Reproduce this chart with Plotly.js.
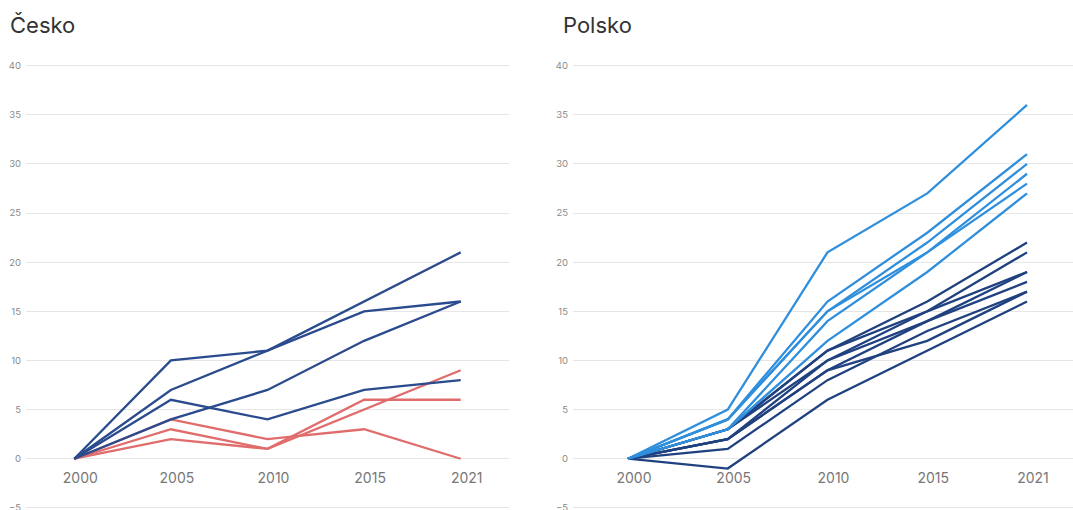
<!DOCTYPE html>
<html>
<head>
<meta charset="utf-8">
<script src="https://cdn.plot.ly/plotly-3.0.1.min.js"></script>
<style>
html, body { margin: 0; padding: 0; overflow: hidden; background: #fff; }
#chart { width: 1073px; height: 600px; }
</style>
</head>
<body>
<div id="chart"></div>
<script>
const years = ["2000", "2005", "2010", "2015", "2021"];

// Česko
const czBlue1 = [0, 10, 11, 15, 16];
const czBlue2 = [0, 7, 11, 16, 21];
const czBlue3 = [0, 4, 7, 12, 16];
const czBlue4 = [0, 6, 4, 7, 8];
const czRed1 = [0, 4, 2, 3, 0];
const czRed2 = [0, 3, 1, 6, 6];
const czRed3 = [0, 2, 1, 5, 9];

// Polsko
const plLight1 = [0, 5, 21, 27, 36];
const plLight2 = [0, 4, 16, 23, 31];
const plLight3 = [0, 4, 15, 22, 30];
const plLight4 = [0, 3, 14, 21, 29];
const plLight5 = [0, 4, 15, 21, 28];
const plLight6 = [0, 3, 12, 19, 27];
const plDark1 = [0, 3, 11, 16, 22];
const plDark2 = [0, 3, 11, 15, 21];
const plDark3 = [0, 2, 10, 15, 19];
const plDark4 = [0, 3, 10, 14, 19];
const plDark5 = [0, 2, 9, 14, 18];
const plDark6 = [0, 2, 9, 12, 17];
const plDark7 = [0, 1, 8, 13, 17];
const plDark8 = [0, -1, 6, 11, 16];

const NAVY = "#2a4b8d";
const RED = "#e06c6c";
const LIGHT = "#2f8fdc";
const DARK = "#1f417f";

function line(y, color, xa, ya) {
  return { x: years, y: y, type: "scatter", mode: "lines",
    line: { color: color, width: 2.3 }, xaxis: xa, yaxis: ya, hoverinfo: "skip" };
}

const data = [
  line(czRed1, RED, "x", "y"),
  line(czRed2, RED, "x", "y"),
  line(czRed3, RED, "x", "y"),
  line(czBlue1, NAVY, "x", "y"),
  line(czBlue2, NAVY, "x", "y"),
  line(czBlue3, NAVY, "x", "y"),
  line(czBlue4, NAVY, "x", "y"),
  line(plDark1, DARK, "x2", "y2"),
  line(plDark2, DARK, "x2", "y2"),
  line(plDark3, DARK, "x2", "y2"),
  line(plDark4, DARK, "x2", "y2"),
  line(plDark5, DARK, "x2", "y2"),
  line(plDark6, DARK, "x2", "y2"),
  line(plDark7, DARK, "x2", "y2"),
  line(plDark8, DARK, "x2", "y2"),
  line(plLight1, LIGHT, "x2", "y2"),
  line(plLight2, LIGHT, "x2", "y2"),
  line(plLight3, LIGHT, "x2", "y2"),
  line(plLight4, LIGHT, "x2", "y2"),
  line(plLight5, LIGHT, "x2", "y2"),
  line(plLight6, LIGHT, "x2", "y2")
];

const W = 1073;
const xTick = { family: "Inter, 'Noto Sans', sans-serif", size: 14, color: "#777" };
const yTick = { family: "Inter, 'Noto Sans', sans-serif", size: 9.5, color: "#8a8a8a" };
const yRange = [-10, 42];
const xPos = (0 - yRange[0]) / (yRange[1] - yRange[0]);

function xaxis(domain, range) {
  return {
    domain: domain, type: "category", range: range,
    anchor: "free", position: xPos,
    showgrid: false, zeroline: false, showline: false,
    ticks: "", ticklabelstandoff: 9, ticklabelshift: 6,
    tickfont: xTick, fixedrange: true
  };
}
function yaxis(xanchorName) {
  return {
    anchor: xanchorName, range: yRange, dtick: 5, tick0: 0,
    showgrid: true, gridcolor: "#e6e6e6", gridwidth: 1,
    zeroline: false, showline: false, ticks: "",
    ticklabelstandoff: 4, tickfont: yTick, fixedrange: true
  };
}

const layout = {
  width: 1073, height: 600,
  margin: { l: 0, r: 0, t: 46, b: 43 },
  paper_bgcolor: "#fff", plot_bgcolor: "#fff",
  showlegend: false, hovermode: false,
  xaxis: xaxis([26 / W, 509 / W], [-0.5, 4.5]),
  yaxis: yaxis("x"),
  xaxis2: xaxis([573 / W, 1], [-0.551, 4.461]),
  yaxis2: yaxis("x2"),
  annotations: [
    { text: "Česko", xref: "paper", yref: "paper", x: 8 / W, y: (557 - 25) / 511,
      xanchor: "left", yanchor: "middle", showarrow: false,
      font: { family: "Inter, 'Noto Sans', sans-serif", size: 22, color: "#333" } },
    { text: "Polsko", xref: "paper", yref: "paper", x: 561 / W, y: (557 - 25) / 511,
      xanchor: "left", yanchor: "middle", showarrow: false,
      font: { family: "Inter, 'Noto Sans', sans-serif", size: 22, color: "#333" } }
  ]
};

Plotly.newPlot("chart", data, layout, { staticPlot: true, displayModeBar: false });
</script>
</body>
</html>
